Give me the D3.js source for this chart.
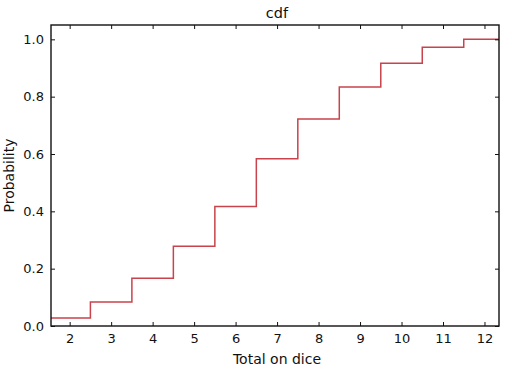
<!DOCTYPE html>
<html><head><meta charset="utf-8">
<script src="https://cdn.jsdelivr.net/npm/d3@7"></script>
<style>body{margin:0;background:#fff}svg{display:block}text{font-family:"DejaVu Sans",sans-serif;fill:#111}</style>
</head><body><svg id="c" width="512" height="373"></svg>
<script>
const totals = [2,3,4,5,6,7,8,9,10,11,12];
const cdfValues = [1/36,3/36,6/36,10/36,15/36,21/36,26/36,30/36,33/36,35/36,36/36];
const xTicks = [2,3,4,5,6,7,8,9,10,11,12];
const yTicks = [0,0.2,0.4,0.6,0.8,1.0];
const title = "cdf", xLabel = "Total on dice", yLabel = "Probability";

const svg = d3.select("#c");
const L=51,R=499,T=25,B=326;
const x = d3.scaleLinear().domain([1.55,12.35]).range([L,R]);
const y = d3.scaleLinear().domain([0,1.05]).range([B,T]);

const pts = [[x.domain()[0],cdfValues[0]]].concat(totals.map((t,i)=>[t,cdfValues[i]])).concat([[x.domain()[1],cdfValues[cdfValues.length-1]]]);
const line = d3.line().x(d=>x(d[0])).y(d=>y(d[1])).curve(d3.curveStep);
svg.append("path").attr("d",line(pts)).attr("fill","none").attr("stroke","#c8434b").attr("stroke-width",1.5);

const tl=4;
const g = svg.append("g");
g.append("g").attr("transform",`translate(0,${B})`).call(d3.axisBottom(x).tickValues(xTicks).tickSize(-tl).tickPadding(8).tickFormat(d3.format("d")));
g.append("g").attr("transform",`translate(0,${T})`).call(d3.axisTop(x).tickValues(xTicks).tickSize(-tl).tickFormat(""));
g.append("g").attr("transform",`translate(${L},0)`).call(d3.axisLeft(y).tickValues(yTicks).tickSize(-tl).tickPadding(7).tickFormat(d3.format(".1f")));
g.append("g").attr("transform",`translate(${R},0)`).call(d3.axisRight(y).tickValues(yTicks).tickSize(-tl).tickFormat(""));
g.selectAll(".domain").remove();
g.selectAll(".tick line").attr("stroke","#111");
g.selectAll(".tick text").style("font-size","13px").style("font-family","DejaVu Sans").attr("fill","#111");
svg.append("rect").attr("x",L).attr("y",T).attr("width",R-L).attr("height",B-T).attr("fill","none").attr("stroke","#111").attr("stroke-width",1.4);

svg.append("text").attr("x",277).attr("y",18).attr("text-anchor","middle").style("font-size","14.5px").text(title);
svg.append("text").attr("x",277).attr("y",364).attr("text-anchor","middle").style("font-size","14px").text(xLabel);
svg.append("text").attr("transform",`translate(14,${(T+B)/2}) rotate(-90)`).attr("text-anchor","middle").style("font-size","14px").text(yLabel);
</script></body></html>
